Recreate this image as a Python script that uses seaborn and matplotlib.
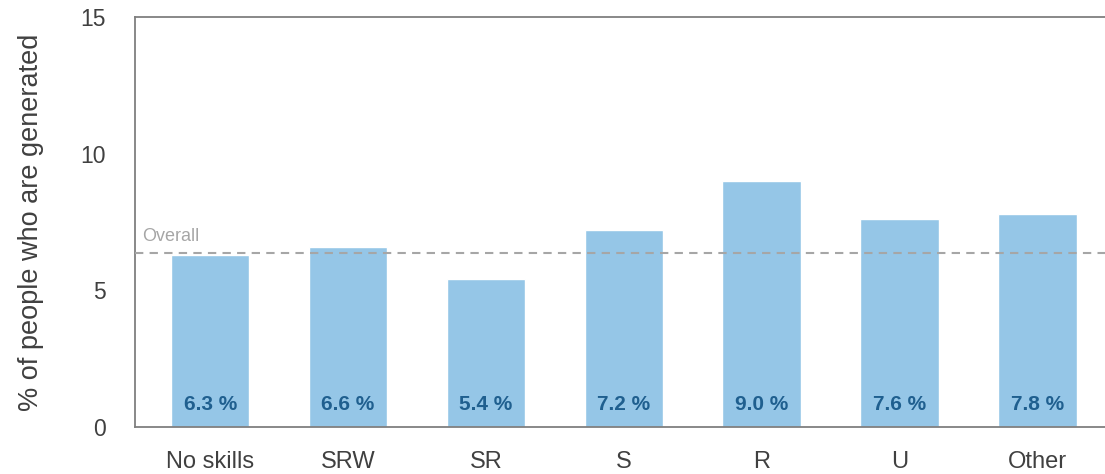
import pandas as pd
import numpy as np
import matplotlib.pyplot as plt
import seaborn as sns

# data
categories = ['No skills', 'SRW', 'SR', 'S', 'R', 'U', 'Other']
values = [6.3, 6.6, 5.4, 7.2, 9.0, 7.6, 7.8]
overall = 6.35
y_ticks = [0, 5, 10, 15]

df = pd.DataFrame({'group': categories, 'pct': values})

sns.set_style('white')
plt.rcParams['font.family'] = ['Liberation Sans', 'DejaVu Sans']

fig = plt.figure(figsize=(11.05, 4.74), dpi=100)
ax = fig.add_axes([0.1222, 0.0992, 0.8778, 0.8650])

sns.barplot(data=df, x='group', y='pct', color='#95c6e7', saturation=1,
            width=0.57, ax=ax)

# overall reference line
ax.axhline(overall, color='#a6a6a6', linestyle=(0, (4, 3)), linewidth=1.5, zorder=3)
ax.text(-0.49, overall + 0.3, 'Overall', color='#a6a6a6', fontsize=13,
        ha='left', va='bottom')

# value labels near the base of each bar
for i, v in enumerate(values):
    ax.text(i, 0.82, f'{v:.1f} %', ha='center', va='center', fontsize=15,
            fontweight='bold', color='#1f5f8f')

ax.set_ylim(0, 15)
ax.set_xlim(-0.545, 6.49)
ax.set_yticks(y_ticks)
ax.set_xlabel('')
ax.set_ylabel('% of people who are generated', fontsize=19.5, color='#404040', labelpad=26)
ax.tick_params(axis='y', length=0, pad=21, labelsize=16.5, labelcolor='#404040')
ax.tick_params(axis='x', length=0, pad=17, labelsize=17, labelcolor='#404040')

for side in ['left', 'top', 'bottom']:
    ax.spines[side].set_color('#7f7f7f')
    ax.spines[side].set_linewidth(1.3)
ax.spines['right'].set_visible(False)

fig.savefig('out.png', dpi=100)
